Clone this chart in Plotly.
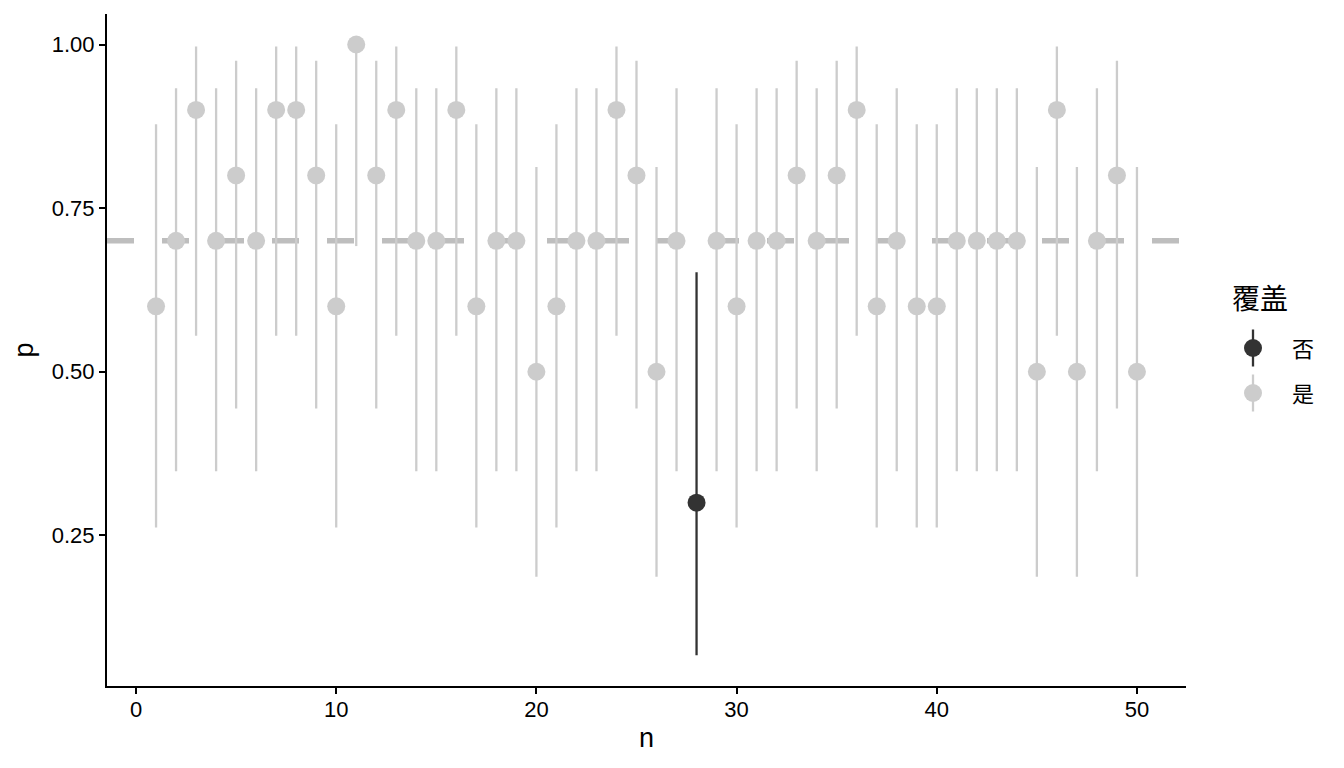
import plotly.graph_objects as go

# ---- data ----
n_vals = list(range(1, 51))
p_vals = [0.6, 0.7, 0.9, 0.7, 0.8, 0.7, 0.9, 0.9, 0.8, 0.6,
          1.0, 0.8, 0.9, 0.7, 0.7, 0.9, 0.6, 0.7, 0.7, 0.5,
          0.6, 0.7, 0.7, 0.9, 0.8, 0.5, 0.7, 0.3, 0.7, 0.6,
          0.7, 0.7, 0.8, 0.7, 0.8, 0.9, 0.6, 0.7, 0.6, 0.6,
          0.7, 0.7, 0.7, 0.7, 0.5, 0.9, 0.5, 0.7, 0.8, 0.5]
lower = [0.262, 0.348, 0.555, 0.348, 0.444, 0.348, 0.555, 0.555, 0.444, 0.262,
         0.692, 0.444, 0.555, 0.348, 0.348, 0.555, 0.262, 0.348, 0.348, 0.187,
         0.262, 0.348, 0.348, 0.555, 0.444, 0.187, 0.348, 0.067, 0.348, 0.262,
         0.348, 0.348, 0.444, 0.348, 0.444, 0.555, 0.262, 0.348, 0.262, 0.262,
         0.348, 0.348, 0.348, 0.348, 0.187, 0.555, 0.187, 0.348, 0.444, 0.187]
upper = [0.878, 0.933, 0.997, 0.933, 0.975, 0.933, 0.997, 0.997, 0.975, 0.878,
         1.000, 0.975, 0.997, 0.933, 0.933, 0.997, 0.878, 0.933, 0.933, 0.813,
         0.878, 0.933, 0.933, 0.997, 0.975, 0.813, 0.933, 0.652, 0.933, 0.878,
         0.933, 0.933, 0.975, 0.933, 0.975, 0.997, 0.878, 0.933, 0.878, 0.878,
         0.933, 0.933, 0.933, 0.933, 0.813, 0.997, 0.813, 0.933, 0.975, 0.813]
covered = ["是"] * 27 + ["否"] + ["是"] * 22
ref_p = 0.7
legend_title = "覆盖"
levels = ["否", "是"]
level_colors = {"否": "#333333", "是": "#CCCCCC"}
x_ticks = [0, 10, 20, 30, 40, 50]
y_ticks = [0.25, 0.50, 0.75, 1.00]
y_ticklabels = ["0.25", "0.50", "0.75", "1.00"]

# ---- geometry (screen pixels; page body has an 8px margin) ----
OFF = 8
W, H = 1344, 768
L, R, T, B = 107 - OFF, 1186 - OFF, 14 - OFF, 686 - OFF
PW, PH = R - L, B - T

def px(xs):
    return (xs - OFF - L) / PW

def py(ys):
    return (B - (ys - OFF)) / PH

FONT = "Liberation Sans, Arial, Noto Sans CJK SC, sans-serif"
CJK = "Noto Sans CJK SC, Liberation Sans, sans-serif"

fig = go.Figure()

for lev in ["是", "否"]:
    idx = [i for i, c in enumerate(covered) if c == lev]
    xs = [n_vals[i] for i in idx]
    ys = [p_vals[i] for i in idx]
    up = [upper[i] - p_vals[i] for i in idx]
    dn = [p_vals[i] - lower[i] for i in idx]
    fig.add_trace(go.Scatter(
        x=xs, y=ys, mode="markers", name=lev, showlegend=False,
        marker=dict(color=level_colors[lev], size=18, line=dict(width=0)),
        error_y=dict(type="data", symmetric=False, array=up, arrayminus=dn,
                     color=level_colors[lev], thickness=2.3, width=0),
    ))

shapes = [dict(type="line", xref="paper", x0=0, x1=1, yref="y", y0=ref_p, y1=ref_p,
               line=dict(color="#BEBEBE", width=5.5, dash="27px,28px"), layer="below")]

annotations = [dict(text=legend_title, xref="paper", yref="paper", x=px(1230), y=py(297),
                    xanchor="left", yanchor="middle", showarrow=False,
                    font=dict(family=CJK, size=28, color="#000000"))]

key_x = px(1253)
for lev, yc in zip(levels, [348, 393]):
    col = level_colors[lev]
    shapes.append(dict(type="line", xref="paper", yref="paper", xsizemode="pixel", ysizemode="pixel",
                       xanchor=key_x, yanchor=py(yc), x0=0, x1=0, y0=-18.5, y1=18.5,
                       line=dict(color=col, width=2.3)))
    shapes.append(dict(type="circle", xref="paper", yref="paper", xsizemode="pixel", ysizemode="pixel",
                       xanchor=key_x, yanchor=py(yc), x0=-9, x1=9, y0=-9, y1=9,
                       fillcolor=col, line=dict(width=0)))
    annotations.append(dict(text=lev, xref="paper", yref="paper", x=px(1290), y=py(yc - 1),
                            xanchor="left", yanchor="middle", showarrow=False,
                            font=dict(family=CJK, size=22, color="#000000")))

fig.update_layout(
    width=W, height=H,
    margin=dict(l=L, r=W - R, t=T, b=H - B, autoexpand=False),
    paper_bgcolor="white", plot_bgcolor="white",
    showlegend=False,
    shapes=shapes, annotations=annotations,
    font=dict(family=FONT, color="#000000"),
    xaxis=dict(range=[-1.45, 52.45], tickvals=x_ticks, ticktext=[str(v) for v in x_ticks],
               showgrid=False, zeroline=False, showline=True, linecolor="black", linewidth=2,
               ticks="outside", ticklen=6, tickwidth=2, tickcolor="black",
               ticklabelstandoff=-3,
               tickfont=dict(size=22, color="#000000", family=FONT),
               title=dict(text="n", font=dict(size=27, family=FONT), standoff=7)),
    yaxis=dict(range=[0.0199, 1.0466], tickvals=y_ticks, ticktext=y_ticklabels,
               showgrid=False, zeroline=False, showline=True, linecolor="black", linewidth=2,
               ticks="outside", ticklen=6, tickwidth=2, tickcolor="black",
               tickfont=dict(size=22, color="#000000", family=FONT),
               title=dict(text="p", font=dict(size=27, family=FONT), standoff=10)),
)

fig.write_html("out.html")
